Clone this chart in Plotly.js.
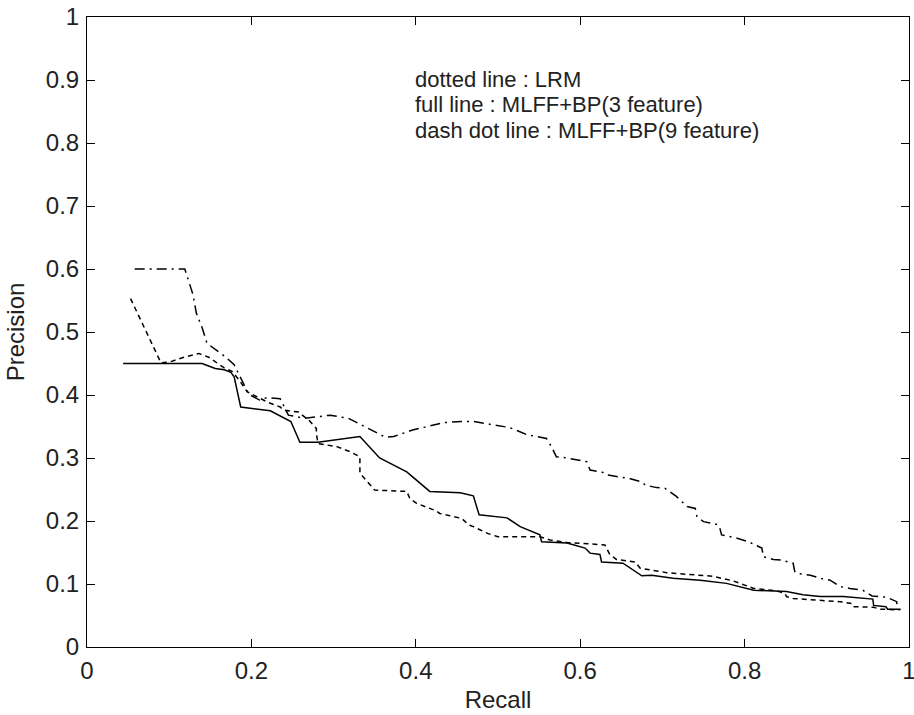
<!DOCTYPE html>
<html>
<head>
<meta charset="utf-8">
<script src="https://cdn.plot.ly/plotly-3.0.1.min.js"></script>
<style>html,body{margin:0;padding:0;background:#fff;}#chart{width:914px;height:715px;}</style>
</head>
<body>
<div id="chart"></div>
<script>
// LRM (dotted line)
const lrmRecall = [0.053,0.070,0.090,0.102,0.118,0.136,0.148,0.167,0.177,0.186,0.195,0.210,0.221,0.235,0.239,0.257,0.270,0.279,0.279,0.281,0.304,0.320,0.332,0.332,0.336,0.346,0.350,0.389,0.393,0.401,0.425,0.429,0.456,0.464,0.470,0.488,0.500,0.551,0.563,0.584,0.600,0.630,0.636,0.644,0.667,0.673,0.697,0.705,0.754,0.762,0.786,0.794,0.803,0.811,0.839,0.849,0.851,0.859,0.880,0.916,0.930,0.932,0.957,0.965,0.989];
const lrmPrecision = [0.553,0.505,0.451,0.453,0.460,0.466,0.460,0.443,0.437,0.422,0.405,0.395,0.388,0.381,0.376,0.373,0.360,0.347,0.339,0.323,0.318,0.310,0.302,0.276,0.270,0.256,0.249,0.247,0.235,0.228,0.216,0.212,0.204,0.194,0.191,0.180,0.175,0.175,0.170,0.166,0.165,0.162,0.147,0.139,0.135,0.125,0.120,0.118,0.113,0.112,0.105,0.101,0.096,0.093,0.089,0.085,0.080,0.077,0.075,0.072,0.069,0.064,0.063,0.060,0.059];

// MLFF+BP (3 feature), full line
const mlff3Recall = [0.044,0.140,0.156,0.167,0.175,0.179,0.187,0.223,0.248,0.259,0.281,0.332,0.356,0.389,0.417,0.454,0.470,0.477,0.511,0.527,0.551,0.553,0.584,0.606,0.612,0.624,0.626,0.652,0.675,0.687,0.713,0.746,0.778,0.811,0.851,0.871,0.892,0.904,0.920,0.956,0.957,0.972,0.974,0.990];
const mlff3Precision = [0.450,0.450,0.442,0.440,0.436,0.429,0.381,0.375,0.358,0.325,0.325,0.334,0.300,0.278,0.247,0.245,0.240,0.210,0.205,0.191,0.178,0.167,0.165,0.157,0.149,0.147,0.135,0.133,0.113,0.114,0.109,0.106,0.101,0.090,0.088,0.083,0.080,0.080,0.080,0.076,0.066,0.064,0.060,0.060];

// MLFF+BP (9 feature), dash dot line
const mlff9Recall = [0.058,0.119,0.122,0.129,0.133,0.140,0.146,0.168,0.179,0.188,0.197,0.210,0.219,0.235,0.245,0.265,0.288,0.296,0.318,0.334,0.363,0.373,0.395,0.411,0.433,0.456,0.470,0.488,0.511,0.519,0.535,0.559,0.565,0.571,0.584,0.608,0.612,0.628,0.634,0.661,0.675,0.679,0.693,0.703,0.717,0.730,0.740,0.742,0.750,0.768,0.770,0.772,0.790,0.805,0.821,0.823,0.835,0.845,0.859,0.861,0.863,0.880,0.892,0.904,0.916,0.928,0.944,0.955,0.973,0.985,0.986];
const mlff9Precision = [0.600,0.600,0.588,0.559,0.530,0.507,0.482,0.461,0.448,0.424,0.401,0.392,0.396,0.394,0.368,0.363,0.366,0.368,0.363,0.352,0.333,0.334,0.344,0.349,0.356,0.358,0.358,0.354,0.349,0.346,0.337,0.331,0.318,0.302,0.300,0.294,0.281,0.277,0.273,0.267,0.262,0.257,0.253,0.252,0.239,0.223,0.220,0.207,0.199,0.194,0.188,0.178,0.173,0.167,0.157,0.143,0.139,0.138,0.133,0.120,0.117,0.114,0.109,0.106,0.096,0.093,0.090,0.081,0.079,0.072,0.060];

const noteLines = ["dotted line : LRM", "full line : MLFF+BP(3 feature)", "dash dot line : MLFF+BP(9 feature)"];
const xTicks = [0,0.2,0.4,0.6,0.8,1];
const yTicks = [0,0.1,0.2,0.3,0.4,0.5,0.6,0.7,0.8,0.9,1];

const lineColor = '#000';
const traces = [
  {x: lrmRecall, y: lrmPrecision, name: 'LRM', mode: 'lines', line: {color: lineColor, width: 1.5, dash: '5px,4px'}},
  {x: mlff3Recall, y: mlff3Precision, name: 'MLFF+BP(3 feature)', mode: 'lines', line: {color: lineColor, width: 1.5, dash: 'solid'}},
  {x: mlff9Recall, y: mlff9Precision, name: 'MLFF+BP(9 feature)', mode: 'lines', line: {color: lineColor, width: 1.5, dash: '10px,5px,2px,5px'}}
];

const font = {family: 'Liberation Sans, Arial, sans-serif', size: 24, color: '#222'};
const noteFont = {family: 'Liberation Sans, Arial, sans-serif', size: 22, color: '#222'};
const noteY = [0.9015, 0.861, 0.8205];
const annotations = noteLines.map((t, i) => ({
  text: t, x: 0.398, y: noteY[i], xref: 'x', yref: 'y', xanchor: 'left', yanchor: 'middle',
  showarrow: false, font: noteFont, borderpad: 0
}));

const axisCommon = {
  range: [0, 1], showgrid: false, zeroline: false, showline: true, linecolor: '#000', linewidth: 1,
  mirror: 'ticks', ticks: 'inside', ticklen: 8, tickcolor: '#000', tickwidth: 1, tickfont: font,
  ticklabeloverflow: 'allow'
};

const layout = {
  width: 914, height: 715,
  margin: {l: 87, r: 5, t: 17, b: 68},
  paper_bgcolor: '#fff', plot_bgcolor: '#fff',
  showlegend: false,
  font: font,
  xaxis: Object.assign({}, axisCommon, {tickvals: xTicks, ticktext: xTicks.map(String), ticklabelstandoff: 2, title: {text: 'Recall', font: font, standoff: 8}}),
  yaxis: Object.assign({}, axisCommon, {tickvals: yTicks, ticktext: yTicks.map(String), ticklabelstandoff: 2, title: {text: 'Precision', font: font, standoff: 14}}),
  annotations: annotations
};

Plotly.newPlot('chart', traces, layout, {staticPlot: true, displayModeBar: false});
</script>
</body>
</html>
